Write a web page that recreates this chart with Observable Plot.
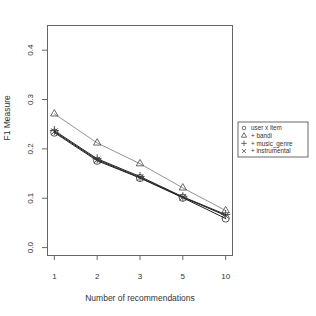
<!DOCTYPE html>
<html><head><meta charset="utf-8">
<script src="https://cdn.jsdelivr.net/npm/d3@7"></script>
<script src="https://cdn.jsdelivr.net/npm/@observablehq/plot@0.6"></script>
<style>body{margin:0;background:#fff;font-family:"Liberation Sans",Arial,sans-serif}</style>
</head><body><div id="chart"></div>
<script>
const kLabels = ["1","2","3","5","10"];
const seriesNames = ["user x item","+ bandi","+ music_genre","+ instrumental"];
const userItem = [0.233,0.176,0.141,0.101,0.059];
const bandit = [0.271,0.212,0.170,0.121,0.075];
const musicGenre = [0.237,0.180,0.144,0.103,0.067];
const instrumental = [0.235,0.178,0.142,0.102,0.065];
const yTicks = [0.0,0.1,0.2,0.3,0.4];
const symbolsList = ["circle","triangle","plus","times"];
const seriesValues = [userItem, bandit, musicGenre, instrumental];

const data = [];
seriesValues.forEach((vals, s) => vals.forEach((v, i) => data.push({series: seriesNames[s], idx: i + 1, k: kLabels[i], v, sym: symbolsList[s]})));

const W = 316, H = 316;
const ml = 47, mr = 84, mt = 25, mb = 61;
const FONT = "'Liberation Sans', Arial, sans-serif";
const plot = Plot.plot({
  width: W, height: H,
  marginLeft: ml, marginRight: mr, marginTop: mt, marginBottom: mb,
  style: {fontFamily: FONT, fontSize: "8px", color: "#333", background: "#fff"},
  x: {type: "linear", domain: [0.84, 5.16], label: null},
  y: {domain: [-0.016, 0.45], label: null},
  symbol: {type: "identity"},
  marks: [
    Plot.frame({stroke: "#666", strokeWidth: 1}),
    Plot.axisX({ticks: [1,2,3,4,5], tickFormat: d => kLabels[d - 1], tickSize: 5, tickPadding: 13, stroke: "#666", fill: "#333", fontSize: 8}),
    Plot.axisY({ticks: yTicks, tickSize: 5, tickFormat: () => "", stroke: "#666"}),
    Plot.text(yTicks, {x: 0.84, y: d => d, text: d => d.toFixed(1), dx: -17, rotate: -90, fill: "#333", fontSize: 8}),
    Plot.line(data, {x: "idx", y: "v", z: "series", stroke: d => d.series === "+ bandi" ? "#777" : "#222", strokeWidth: d => d.series === "+ bandi" ? 0.8 : 1}),
    Plot.dot(data, {x: "idx", y: "v", symbol: "sym", stroke: d => d.series === "+ bandi" ? "#444" : "#333", fill: "none", r: d => d.sym === "circle" ? 4.2 : d.sym === "triangle" ? 2.4 : 3, strokeWidth: 0.8}),
    Plot.text(["Number of recommendations"], {frameAnchor: "bottom", dy: 45, fill: "#333", fontSize: 8.5}),
    Plot.text(["F1 Measure"], {frameAnchor: "left", dx: -40, rotate: -90, fill: "#333", fontSize: 8.5})
  ]
});
document.getElementById("chart").appendChild(plot);

// legend inside svg to the right of the plot
const svg = d3.select(plot);
const lg = svg.append("g").attr("transform", `translate(${W - mr + 6},${122})`).style("font-family", FONT);
lg.append("rect").attr("width", 70).attr("height", 35).attr("fill", "#fff").attr("stroke", "#444").attr("stroke-width", 0.8);
const symMap = {circle: d3.symbolCircle, triangle: d3.symbolTriangle, plus: d3.symbolPlus, times: d3.symbolTimes};
seriesNames.forEach((name, i) => {
  const y = 6 + i * 7.7;
  lg.append("path").attr("d", d3.symbol(symMap[symbolsList[i]], i === 0 ? 10 : 12)()).attr("transform", `translate(6,${y})`).attr("fill", "none").attr("stroke", "#333").attr("stroke-width", 0.7);
  lg.append("text").attr("x", 13).attr("y", y).attr("dy", "0.35em").attr("text-anchor", "start").style("font-family", FONT).style("font-size", "6.3px").attr("fill", "#333").text(name);
});
</script></body></html>
